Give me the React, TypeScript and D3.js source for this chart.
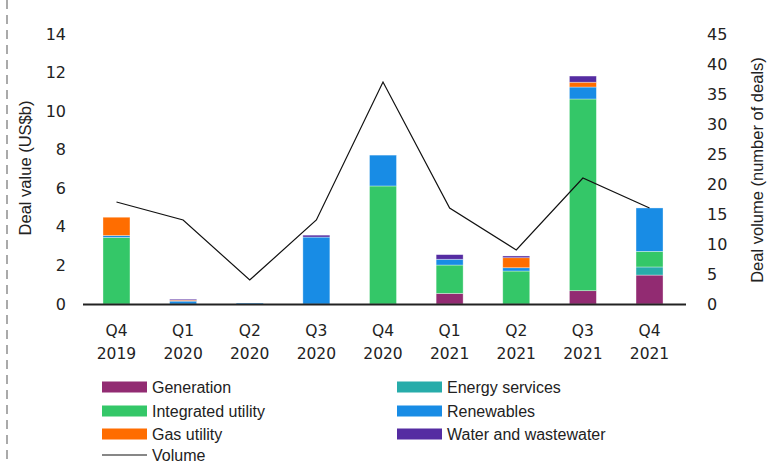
import React from "react";
import * as d3 from "d3";

const quarters = ["Q4", "Q1", "Q2", "Q3", "Q4", "Q1", "Q2", "Q3", "Q4"];
const years = ["2019", "2020", "2020", "2020", "2020", "2021", "2021", "2021", "2021"];
const generation = [0, 0, 0, 0, 0, 0.55, 0, 0.69, 1.5];
const energyServices = [0, 0, 0, 0, 0, 0, 0, 0, 0.42];
const integratedUtility = [3.45, 0, 0, 0, 6.12, 1.47, 1.71, 9.94, 0.81];
const renewables = [0.1, 0.15, 0.05, 3.47, 1.6, 0.3, 0.17, 0.62, 2.25];
const gasUtility = [0.95, 0.05, 0, 0, 0, 0, 0.52, 0.25, 0];
const waterWastewater = [0, 0.05, 0, 0.1, 0, 0.24, 0.09, 0.32, 0];
const volume = [17, 14, 4, 14, 37, 16, 9, 21, 16];
const leftTicks = [0, 2, 4, 6, 8, 10, 12, 14];
const rightTicks = [0, 5, 10, 15, 20, 25, 30, 35, 40, 45];

const seriesNames = ["Generation", "Energy services", "Integrated utility", "Renewables", "Gas utility", "Water and wastewater"];
const seriesData = [generation, energyServices, integratedUtility, renewables, gasUtility, waterWastewater];
const colors = ["#922b72", "#27acaa", "#34c768", "#188ce5", "#ff6d00", "#552ca2"];

export default function App() {
  const W = 781, H = 464;
  const x0 = 83, x1 = 683, yBase = 304, yTop = 34;
  const x = d3.scaleBand<number>().domain(d3.range(quarters.length)).range([x0, x1]).paddingInner(0.595).paddingOuter(0.3);
  const yL = d3.scaleLinear().domain([0, 14]).range([yBase, yTop]);
  const yR = d3.scaleLinear().domain([0, 45]).range([yBase, yTop]);

  const rows = quarters.map((_, i) => {
    const o: Record<string, number> = {};
    seriesNames.forEach((n, k) => (o[n] = seriesData[k][i]));
    return o;
  });
  const stacked = d3.stack<Record<string, number>>().keys(seriesNames)(rows);
  const cx = (i: number) => (x(i) as number) + x.bandwidth() / 2;
  const line = d3.line<number>().x((_, i) => cx(i)).y((d) => yR(d));

  const tickFont = "DejaVu Sans, sans-serif";
  const labFont = "Liberation Sans, Arial, sans-serif";
  const legendItems = [
    { name: "Generation", col: 0, row: 0, c: colors[0] },
    { name: "Energy services", col: 1, row: 0, c: colors[1] },
    { name: "Integrated utility", col: 0, row: 1, c: colors[2] },
    { name: "Renewables", col: 1, row: 1, c: colors[3] },
    { name: "Gas utility", col: 0, row: 2, c: colors[4] },
    { name: "Water and wastewater", col: 1, row: 2, c: colors[5] },
  ];
  const legY = [387, 411, 434, 455];
  const legX = [102, 397];

  return (
    <svg width={W} height={H} style={{ position: "absolute", left: 0, top: 0, background: "#fff" }}>
      <line x1={7} x2={7} y1={0} y2={H} stroke="#aaa" strokeWidth={2} strokeDasharray="9,6" />
      {stacked.map((s, k) => (
        <g key={k} fill={colors[k]}>
          {s.map((d, i) =>
            d[1] - d[0] > 0 ? (
              <rect key={i} x={x(i)} width={x.bandwidth()} y={yL(d[1])} height={yL(d[0]) - yL(d[1])} stroke="#ffffff" strokeOpacity={0.5} strokeWidth={0.7} />
            ) : null
          )}
        </g>
      ))}
      <line x1={x0} x2={x1 + 3} y1={yBase + 0.5} y2={yBase + 0.5} stroke="#222" strokeWidth={2} />
      <path d={line(volume) || ""} fill="none" stroke="#111" strokeWidth={1.2} />
      {leftTicks.map((t) => (
        <text key={t} x={66} y={yL(t)} dy="0.35em" textAnchor="end" fontFamily={tickFont} fontSize={16} fill="#222">{t}</text>
      ))}
      {rightTicks.map((t) => (
        <text key={t} x={707} y={yR(t)} dy="0.35em" textAnchor="start" fontFamily={tickFont} fontSize={16} fill="#222">{t}</text>
      ))}
      {quarters.map((q, i) => (
        <g key={i}>
          <text x={cx(i)} y={336} textAnchor="middle" fontFamily={tickFont} fontSize={15.5} fill="#222">{q}</text>
          <text x={cx(i)} y={359} textAnchor="middle" fontFamily={tickFont} fontSize={15.5} fill="#222">{years[i]}</text>
        </g>
      ))}
      <text transform={`translate(31,168) rotate(-90)`} textAnchor="middle" fontFamily={labFont} fontSize={16.5} fill="#222">Deal value (US$b)</text>
      <text transform={`translate(763,170) rotate(-90)`} textAnchor="middle" fontFamily={labFont} fontSize={16.5} fill="#222">Deal volume (number of deals)</text>
      {legendItems.map((it) => (
        <g key={it.name}>
          <rect x={legX[it.col]} y={legY[it.row] - 5.5} width={45} height={11} fill={it.c} />
          <text x={legX[it.col] + 50} y={legY[it.row]} dy="0.35em" fontFamily={labFont} fontSize={16} fill="#222">{it.name}</text>
        </g>
      ))}
      <line x1={102} x2={147} y1={legY[3]} y2={legY[3]} stroke="#111" strokeWidth={1.2} />
      <text x={152} y={legY[3]} dy="0.35em" fontFamily={labFont} fontSize={16} fill="#222">Volume</text>
    </svg>
  );
}
